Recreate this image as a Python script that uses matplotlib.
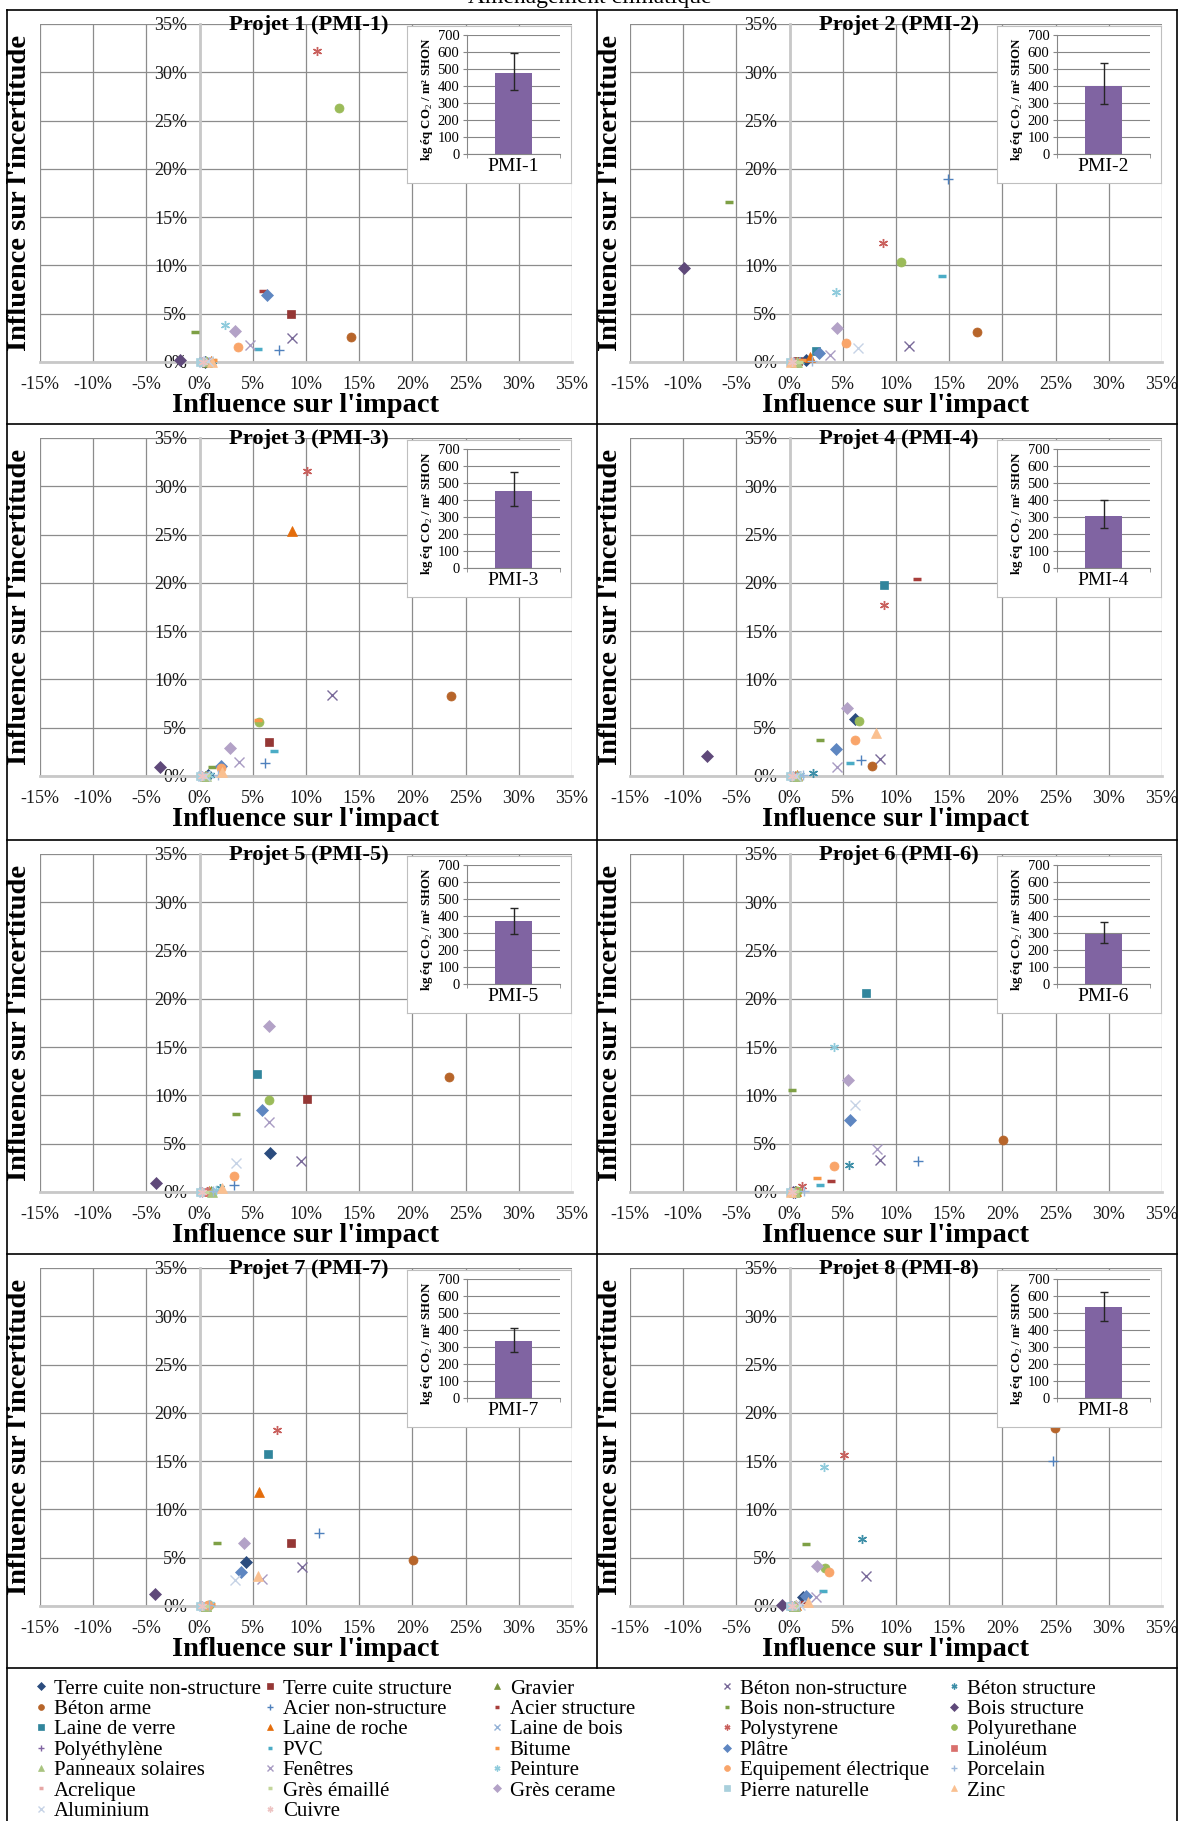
import matplotlib
matplotlib.use('Agg')
import matplotlib.pyplot as plt
from matplotlib.lines import Line2D
from matplotlib.ticker import FuncFormatter, MultipleLocator

plt.rcParams['font.family'] = ['Liberation Serif', 'DejaVu Serif']
plt.rcParams['mathtext.fontset'] = 'custom'
plt.rcParams['mathtext.rm'] = 'Liberation Serif'
plt.rcParams['mathtext.bf'] = 'Liberation Serif:bold'

# series (legend order, row by row)
materials = ['Terre cuite non-structure', 'Terre cuite structure', 'Gravier', 'Béton non-structure', 'Béton structure',
             'Béton arme', 'Acier non-structure', 'Acier structure', 'Bois non-structure', 'Bois structure',
             'Laine de verre', 'Laine de roche', 'Laine de bois', 'Polystyrene', 'Polyurethane',
             'Polyéthylène', 'PVC', 'Bitume', 'Plâtre', 'Linoléum',
             'Panneaux solaires', 'Fenêtres', 'Peinture', 'Equipement électrique', 'Porcelain',
             'Acrelique', 'Grès émaillé', 'Grès cerame', 'Pierre naturelle', 'Zinc',
             'Aluminium', 'Cuivre']
colors = ['#2B4C7E', '#953735', '#77933C', '#7A6A9A', '#3E8FA8',
          '#B7652A', '#4F81BD', '#A83E3B', '#7EA045', '#5F497A',
          '#31859C', '#E46C0A', '#95B3D7', '#C9605D', '#9BBB59',
          '#8064A2', '#4BACC6', '#F79646', '#5E86C1', '#D9706D',
          '#A9C47F', '#A89BC3', '#8FCBDC', '#F9A56A', '#9DB8DB',
          '#E6A7A5', '#C3D69B', '#B3A2C7', '#A9D0DC', '#FAC090',
          '#C6D3E6', '#EDC4C3']
star = (6, 2, 0)
markers = ['D', 's', '^', 'x', star, 'o', '+', '_', '_',
           'D', 's', '^', 'x', star, 'o', '+', '_', '_',
           'D', 's', '^', 'x', star, 'o', '+', '_', '_',
           'D', 's', '^', 'x', star]

projects = ['Projet 1 (PMI-1)', 'Projet 2 (PMI-2)', 'Projet 3 (PMI-3)', 'Projet 4 (PMI-4)',
            'Projet 5 (PMI-5)', 'Projet 6 (PMI-6)', 'Projet 7 (PMI-7)', 'Projet 8 (PMI-8)']
bar_names = ['PMI-1', 'PMI-2', 'PMI-3', 'PMI-4', 'PMI-5', 'PMI-6', 'PMI-7', 'PMI-8']
emission = [475, 400, 452, 307, 368, 292, 338, 535]
emission_lo = [375, 293, 365, 237, 295, 242, 272, 455]
emission_hi = [595, 533, 563, 400, 445, 362, 412, 622]

# influence sur l'impact (%) / influence sur l'incertitude (%), per project
impact_1 = [0.5, 8.6, 0.7, 8.7, 1.2, 14.2, 7.5, 6.0, -0.4, -1.8, 0.3, 1.1, 0.4, 11.0, 13.1, 0.2,
            5.5, 1.3, 6.3, 0.6, 0.6, 4.7, 2.4, 3.6, 0.9, 0.5, 0.4, 3.3, 0.0, 1.2, 0.8, 0.3]
incert_1 = [0.05, 5.0, 0.05, 2.5, 0.1, 2.6, 1.2, 7.4, 3.1, 0.2, 0.05, 0.1, 0.05, 32.2, 26.3, 0.0,
            1.35, 0.2, 6.9, 0.05, 0.1, 1.8, 3.8, 1.6, 0.05, 0.05, 0.05, 3.2, 0.0, 0.05, 0.1, 0.0]
impact_2 = [1.5, 0.8, 0.6, 11.2, 1.0, 17.6, 14.9, 1.4, -5.7, -9.9, 2.5, 1.9, 0.5, 8.8, 10.5, 0.3,
            14.3, 1.2, 2.8, 0.4, 0.7, 3.8, 4.4, 5.3, 2.1, 0.3, 0.85, 4.5, 0.0, 0.1, 6.4, 0.2]
incert_2 = [0.2, 0.1, 0.05, 1.65, 0.1, 3.1, 18.9, 0.2, 16.6, 9.7, 1.1, 0.55, 0.05, 12.3, 10.4, 0.0,
            8.9, 0.2, 0.9, 0.05, 0.05, 0.7, 7.2, 2.0, 0.1, 0.05, 0.05, 3.55, 0.0, 0.0, 1.5, 0.0]
impact_3 = [0.8, 6.55, 0.5, 12.4, 1.0, 23.6, 6.1, 0.7, 1.15, -3.7, 0.4, 8.7, 0.3, 10.1, 5.55, 0.2,
            7.0, 5.5, 2.0, 0.5, 0.6, 3.7, 0.9, 2.05, 1.7, 0.3, 0.6, 2.9, 0.0, 2.15, 0.5, 0.2]
incert_3 = [0.1, 3.55, 0.05, 8.4, 0.1, 8.25, 1.35, 0.1, 0.9, 0.9, 0.05, 25.4, 0.05, 31.6, 5.6, 0.0,
            2.6, 5.85, 1.05, 0.05, 0.05, 1.4, 0.1, 0.8, 0.1, 0.0, 0.1, 2.9, 0.0, 0.45, 0.05, 0.0]
impact_4 = [6.15, 0.6, 0.5, 8.5, 2.2, 7.7, 6.7, 11.95, 2.9, -7.75, 8.85, 0.7, 0.4, 8.9, 6.5, 0.3,
            5.7, 0.9, 4.35, 0.4, 0.65, 4.5, 1.0, 6.15, 1.3, 0.3, 0.5, 5.4, 0.0, 8.1, 0.6, 0.2]
incert_4 = [5.95, 0.05, 0.05, 1.8, 0.3, 1.0, 1.65, 20.45, 3.7, 2.1, 19.8, 0.1, 0.05, 17.7, 5.65, 0.0,
            1.35, 0.1, 2.8, 0.05, 0.05, 0.9, 0.1, 3.7, 0.15, 0.0, 0.05, 7.0, 0.0, 4.5, 0.05, 0.0]
impact_5 = [6.65, 10.05, 1.1, 9.5, 1.9, 23.45, 3.2, 0.6, 3.4, -4.1, 5.35, 0.9, 0.4, 0.7, 6.55, 0.2,
            0.8, 0.8, 5.9, 0.4, 1.2, 6.5, 1.5, 3.25, 1.3, 0.3, 0.5, 6.55, 0.0, 2.15, 3.45, 0.2]
incert_5 = [4.0, 9.6, 0.07, 3.2, 0.4, 11.95, 0.7, 0.05, 8.1, 0.9, 12.2, 0.1, 0.05, 0.1, 9.55, 0.0,
            0.1, 0.1, 8.45, 0.05, 0.05, 7.3, 0.2, 1.7, 0.1, 0.0, 0.05, 17.2, 0.0, 0.45, 3.05, 0.0]
impact_6 = [0.5, 0.6, 0.4, 8.45, 5.6, 20.1, 12.05, 3.9, 0.2, 0.3, 7.15, 0.6, 0.4, 1.15, 0.7, 0.2,
            2.85, 2.6, 5.65, 0.4, 0.5, 8.2, 4.2, 4.15, 1.4, 0.3, 0.55, 5.5, 0.0, 0.1, 6.1, 0.2]
incert_6 = [0.05, 0.05, 0.05, 3.35, 2.8, 5.35, 3.25, 1.15, 10.6, 0.05, 20.65, 0.1, 0.05, 0.6, 0.1, 0.0,
            0.7, 1.5, 7.5, 0.05, 0.05, 4.5, 15.05, 2.7, 0.15, 0.0, 0.1, 11.6, 0.0, 0.0, 9.0, 0.0]
impact_7 = [4.35, 8.55, 0.6, 9.65, 0.8, 20.05, 11.2, 0.7, 1.6, -4.15, 6.4, 5.6, 0.4, 7.25, 0.9, 0.2,
            0.9, 1.1, 3.9, 0.4, 0.6, 5.9, 1.0, 0.8, 0.9, 0.3, 0.5, 4.2, 0.0, 5.5, 3.35, 0.2]
incert_7 = [4.55, 6.55, 0.05, 4.05, 0.15, 4.75, 7.6, 0.1, 6.55, 1.2, 15.75, 11.85, 0.05, 18.2, 0.1, 0.0,
            0.15, 0.25, 3.55, 0.05, 0.05, 2.8, 0.2, 0.1, 0.1, 0.0, 0.05, 6.55, 0.0, 3.15, 2.65, 0.0]
impact_8 = [1.3, 0.5, 0.4, 7.15, 6.8, 24.9, 24.8, 1.4, 1.55, -0.75, 0.2, 0.6, 0.5, 5.15, 3.35, 0.2,
            3.1, 0.8, 1.5, 0.4, 0.5, 2.45, 3.2, 3.7, 0.85, 0.3, 0.5, 2.6, 0.0, 1.7, 1.0, 0.2]
incert_8 = [0.9, 0.05, 0.05, 3.1, 6.95, 18.4, 15.0, 0.4, 6.45, 0.07, 0.05, 0.1, 0.05, 15.6, 3.9, 0.0,
            1.6, 0.1, 1.0, 0.05, 0.05, 0.9, 14.4, 3.5, 0.1, 0.0, 0.05, 4.15, 0.0, 0.4, 0.1, 0.0]

impacts = [impact_1, impact_2, impact_3, impact_4, impact_5, impact_6, impact_7, impact_8]
incerts = [incert_1, incert_2, incert_3, incert_4, incert_5, incert_6, incert_7, incert_8]

W, H = 1178, 1821
fig = plt.figure(figsize=(W / 100, H / 100), dpi=100)


def box(l, t, w, h):
    return [l / W, 1 - (t + h) / H, w / W, h / H]


def msize(m):
    if m in ('D', 's'):
        return 6
    if m == '_':
        return 5.5
    if m == '+':
        return 7
    return 6.5


def mwidth(m):
    if m == '_':
        return 2.5
    if m in ('x', '+') or m == star:
        return 1.0
    return 0.5


pct = FuncFormatter(lambda v, p: '%d%%' % int(round(v)))
col_x = [7, 597]
row_y = [10, 424, 840, 1254]

for k in range(8):
    cx = col_x[k % 2]
    ry = row_y[k // 2]

    ax = fig.add_axes(box(cx + 33, ry + 14, 532, 338))
    ax.set_xlim(-15, 35)
    ax.set_ylim(0, 35)
    ax.xaxis.set_major_locator(MultipleLocator(5))
    ax.yaxis.set_major_locator(MultipleLocator(5))
    ax.xaxis.set_major_formatter(pct)
    ax.yaxis.set_major_formatter(pct)
    ax.grid(True, color='#8C8C8C', lw=0.9)
    ax.set_axisbelow(True)
    ax.spines['top'].set_visible(False)
    ax.spines['right'].set_visible(False)
    ax.spines['left'].set_position(('data', 0))
    for s in ('left', 'bottom'):
        ax.spines[s].set_color('#C8C8C8')
        ax.spines[s].set_linewidth(2)
    ax.tick_params(length=0, labelsize=13, colors='#1A1A1A')
    ax.tick_params(axis='x', pad=10)
    ax.tick_params(axis='y', pad=9)

    for i in range(32):
        m = markers[i]
        ax.plot(impacts[k][i], incerts[k][i], ls='none', marker=m, ms=msize(m),
                mfc=colors[i], mec=colors[i], mew=mwidth(m), label=materials[i],
                clip_on=False, zorder=3)

    ax.set_xlabel("Influence sur l'impact", fontsize=20.5, fontweight='bold', va='center')
    ax.xaxis.set_label_coords(0.5, -44 / 338)
    ax.set_ylabel("Influence sur l'incertitude", fontsize=20.5, fontweight='bold', va='center')
    ax.yaxis.set_label_coords(-20 / 532, 0.5)
    ax.text(0.505, 0.997, projects[k], transform=ax.transAxes, ha='center', va='center',
            fontsize=16.2, fontweight='bold')

    # inset: total emission with error bar
    frame = fig.add_axes(box(cx + 400, ry + 16, 164, 157))
    frame.set_xticks([])
    frame.set_yticks([])
    for s in frame.spines.values():
        s.set_color('#BFBFBF')

    iax = fig.add_axes(box(cx + 460, ry + 25, 93, 119))
    v = emission[k]
    iax.bar([0], [v], width=0.39, color='#8064A2',
            yerr=[[v - emission_lo[k]], [emission_hi[k] - v]],
            error_kw=dict(ecolor='#262626', elinewidth=1, capsize=3, capthick=1))
    iax.set_xlim(-0.5, 0.5)
    iax.set_ylim(0, 700)
    iax.set_yticks(range(0, 701, 100))
    iax.set_xticks([0])
    iax.set_xticklabels([bar_names[k]], fontsize=14)
    iax.set_xticks([-0.5, 0.5], minor=True)
    iax.tick_params(axis='x', which='major', length=0, pad=3)
    iax.tick_params(axis='x', which='minor', length=3, color='#868686')
    iax.tick_params(axis='y', length=3, color='#868686', labelsize=10.5, pad=2.5)
    iax.grid(axis='y', color='#868686', lw=0.8)
    iax.set_axisbelow(True)
    iax.spines['top'].set_visible(False)
    iax.spines['right'].set_visible(False)
    iax.spines['left'].set_color('#868686')
    iax.spines['bottom'].set_color('#868686')
    iax.set_ylabel('kg éq CO$_2$ / m² SHON', fontsize=9.3, fontweight='bold', va='center')
    iax.yaxis.set_label_coords(-40 / 93, 0.46)

# legend, five columns filled row by row
handles, labels = ax.get_legend_handles_labels()
col_marker_x = [41, 270, 497, 727, 954]
for c in range(5):
    idx = list(range(c, 32, 5))
    fig.legend([handles[i] for i in idx], [labels[i] for i in idx], loc='upper left',
               bbox_to_anchor=((col_marker_x[c] - 6) / W, 1 - 1679 / H),
               frameon=False, fontsize=15, handlelength=0.6, handletextpad=0.3,
               labelspacing=0.04, borderpad=0, borderaxespad=0, markerscale=0.65)


# table borders
def seg(x0, y0, x1, y1):
    fig.add_artist(Line2D([x0 / W, x1 / W], [1 - y0 / H, 1 - y1 / H], color='black', lw=1.2))


for y in [10, 424, 840, 1254, 1668]:
    seg(7, y, 1177, y)
seg(7, 10, 7, H)
seg(1177, 10, 1177, H)
seg(597, 10, 597, 1668)

fig.text(590 / W, 1 - 3 / H, 'Aménagement climatique', ha='center', va='baseline', fontsize=17)

fig.savefig('out.png', dpi=100)
